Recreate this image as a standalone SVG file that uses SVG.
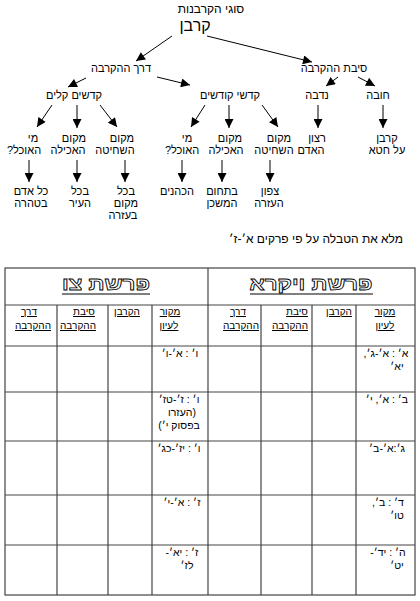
<svg xmlns="http://www.w3.org/2000/svg" width="420" height="601" viewBox="0 0 420 601">
<defs>
<marker id="ah" viewBox="0 0 10 10" refX="10" refY="5" markerWidth="10" markerHeight="9" markerUnits="userSpaceOnUse" orient="auto">
<path d="M0,0 L10,5 L0,10 z" fill="#000"/>
</marker>
<style>
text{font-family:"Liberation Sans","DejaVu Sans",sans-serif;fill:#000;direction:rtl;text-anchor:middle}
.t{font-size:11px}
.tt{font-size:12px}
.big{font-size:16px}
.c{font-size:10.5px}
.h{font-size:10px;text-decoration:underline}
.o{font-size:18px;font-weight:bold;fill:#fff;stroke:#000;stroke-width:0.8}
.ar line{stroke:#000;stroke-width:1;marker-end:url(#ah)}
.tb line,.tb rect{stroke:#444;stroke-width:1.2;fill:none}
</style>
</defs>
<rect width="420" height="601" fill="#fff"/>
<g id="title"><text class="tt" x="211" y="13">סוגי הקרבנות</text></g>
<g id="n-korban"><text class="big" x="195" y="31">קרבן</text></g>
<g id="n-derech"><text class="t" x="121" y="72">דרך ההקרבה</text></g>
<g id="n-siba"><text class="t" x="334" y="72">סיבת ההקרבה</text></g>
<g id="n-kalim"><text class="t" x="74" y="99">קדשים קלים</text></g>
<g id="n-kodashim"><text class="t" x="230" y="99">קדשי קודשים</text></g>
<g id="n-nedava"><text class="t" x="317" y="99">נדבה</text></g>
<g id="n-hova"><text class="t" x="378" y="99">חובה</text></g>
<g id="n-k-mi"><text class="t" x="33" y="142">מי</text><text class="t" x="24" y="154">האוכל?</text></g>
<g id="n-k-akhila"><text class="t" x="74" y="142">מקום</text><text class="t" x="68" y="154">האכילה</text></g>
<g id="n-k-shhita"><text class="t" x="122" y="142">מקום</text><text class="t" x="115" y="154">השחיטה</text></g>
<g id="n-q-mi"><text class="t" x="187" y="142">מי</text><text class="t" x="182" y="154">האוכל?</text></g>
<g id="n-q-akhila"><text class="t" x="230" y="142">מקום</text><text class="t" x="226" y="154">האכילה</text></g>
<g id="n-q-shhita"><text class="t" x="279" y="142">מקום</text><text class="t" x="274" y="154">השחיטה</text></g>
<g id="n-ratzon"><text class="t" x="317" y="142">רצון</text><text class="t" x="311" y="154">האדם</text></g>
<g id="n-het"><text class="t" x="387" y="142">קרבן</text><text class="t" x="387" y="154">על חטא</text></g>
<g id="l-kol-adam"><text class="t" x="31" y="195">כל אדם</text><text class="t" x="31" y="207">בטהרה</text></g>
<g id="l-ir"><text class="t" x="80" y="195">בכל</text><text class="t" x="80" y="207">העיר</text></g>
<g id="l-azara"><text class="t" x="126" y="195">בכל</text><text class="t" x="126" y="207">מקום</text><text class="t" x="123" y="219">בעזרה</text></g>
<g id="l-kohanim"><text class="t" x="177" y="195">הכהנים</text></g>
<g id="l-mishkan"><text class="t" x="222" y="195">בתחום</text><text class="t" x="222" y="207">המשכן</text></g>
<g id="l-tzafon"><text class="t" x="270" y="195">צפון</text><text class="t" x="269" y="207">העזרה</text></g>
<g id="connectors" class="ar">
<line x1="172" y1="36" x2="136" y2="61"/>
<line x1="207" y1="36" x2="312" y2="62"/>
<line x1="86" y1="78" x2="68" y2="87"/>
<line x1="157" y1="77" x2="190" y2="85"/>
<line x1="338" y1="77" x2="326" y2="86"/>
<line x1="358" y1="77" x2="375" y2="86"/>
<line x1="52" y1="105" x2="37" y2="127"/>
<line x1="77" y1="105" x2="77" y2="128"/>
<line x1="100" y1="105" x2="117" y2="127"/>
<line x1="205" y1="105" x2="191" y2="127"/>
<line x1="229" y1="105" x2="229" y2="128"/>
<line x1="262" y1="105" x2="278" y2="127"/>
<line x1="318" y1="105" x2="318" y2="128"/>
<line x1="383" y1="105" x2="383" y2="128"/>
<line x1="29" y1="160" x2="29" y2="182"/>
<line x1="77" y1="160" x2="77" y2="182"/>
<line x1="125" y1="160" x2="125" y2="182"/>
<line x1="182" y1="160" x2="182" y2="182"/>
<line x1="222" y1="160" x2="222" y2="182"/>
<line x1="270" y1="160" x2="270" y2="182"/>
</g>
<g id="instruction"><text class="tt" x="316" y="243">מלא את הטבלה על פי פרקים א׳-ז׳</text></g>
<g id="table" class="tb">
<rect x="5" y="268" width="410" height="327"/>
<line x1="5" y1="305" x2="415" y2="305"/>
<line x1="5" y1="346" x2="415" y2="346"/>
<line x1="5" y1="392" x2="415" y2="392"/>
<line x1="5" y1="441" x2="415" y2="441"/>
<line x1="5" y1="495" x2="415" y2="495"/>
<line x1="5" y1="545" x2="415" y2="545"/>
<line x1="208" y1="268" x2="208" y2="595"/>
<line x1="57" y1="305" x2="57" y2="595"/>
<line x1="108" y1="305" x2="108" y2="595"/>
<line x1="152" y1="305" x2="152" y2="595"/>
<line x1="261" y1="305" x2="261" y2="595"/>
<line x1="312" y1="305" x2="312" y2="595"/>
<line x1="356" y1="305" x2="356" y2="595"/>
</g>
<g id="table-headers">
<text class="o" x="106" y="290" textLength="88" lengthAdjust="spacingAndGlyphs">פרשת צו</text>
<line x1="62" y1="294" x2="150" y2="294" stroke="#000" stroke-width="1"/>
<text class="o" x="311" y="290" textLength="123" lengthAdjust="spacingAndGlyphs">פרשת ויקרא</text>
<line x1="250" y1="294" x2="373" y2="294" stroke="#000" stroke-width="1"/>
<text class="h" x="29" y="315">דרך</text><text class="h" x="33" y="329">ההקרבה</text>
<text class="h" x="84" y="315">סיבת</text><text class="h" x="78" y="329">ההקרבה</text>
<text class="h" x="127" y="315">הקרבן</text>
<text class="h" x="170" y="315">מקור</text><text class="h" x="169" y="329">לעיון</text>
<text class="h" x="238" y="315">דרך</text><text class="h" x="241" y="329">ההקרבה</text>
<text class="h" x="297" y="315">סיבת</text><text class="h" x="290" y="329">ההקרבה</text>
<text class="h" x="339" y="315">הקרבן</text>
<text class="h" x="385" y="315">מקור</text><text class="h" x="385" y="329">לעיון</text>
</g>
<g id="cells">
<text class="c" x="180" y="357">ו׳ : א׳-ו׳</text>
<text class="c" x="179" y="403">ו׳ : ז׳-טז׳</text>
<text class="c" x="182" y="416">(העזרו</text>
<text class="c" x="179" y="429">בפסוק י׳)</text>
<text class="c" x="179" y="452">ו׳ : יז׳-כג׳</text>
<text class="c" x="182" y="506">ז׳ : א׳-י׳</text>
<text class="c" x="182" y="556">ז׳ : יא׳-</text>
<text class="c" x="187" y="569">לז׳</text>
<text class="c" x="386" y="357">א׳ : א׳-ג׳,</text>
<text class="c" x="397" y="370">יא׳</text>
<text class="c" x="387" y="403">ב׳ : א׳, י׳</text>
<text class="c" x="387" y="452">ג׳:א׳-ב׳</text>
<text class="c" x="388" y="506">ד׳ : ב׳,</text>
<text class="c" x="397" y="519">טו׳</text>
<text class="c" x="388" y="556">ה׳ : יד׳-</text>
<text class="c" x="397" y="569">יט׳</text>
</g>
</svg>
